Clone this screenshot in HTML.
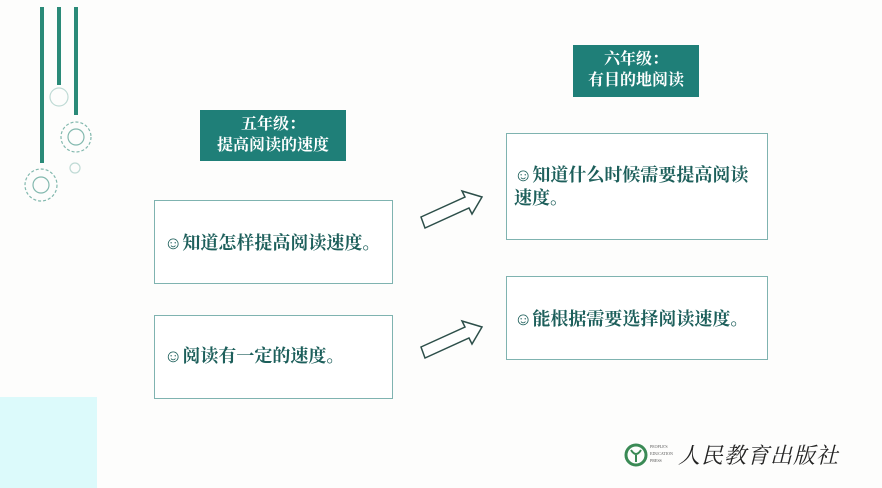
<!DOCTYPE html>
<html><head><meta charset="utf-8"><style>
body{margin:0;width:882px;height:488px;background:#fdfdfc;position:relative;overflow:hidden;font-family:"Liberation Serif","Noto Serif CJK SC",serif;}
.box{position:absolute;border:1.5px solid #7fb3b0;background:#fff;box-sizing:border-box;color:#1d5f5b;font-weight:bold;font-size:18px;line-height:23px;}
.lab{position:absolute;background:#1f7f78;color:#fff;font-weight:bold;font-size:16px;line-height:21px;text-align:center;box-sizing:border-box;padding-top:4px;}
.bar{position:absolute;background:#2a8a78;width:4px;}
</style></head><body>
<div class="bar" style="left:40px;top:7px;height:156px"></div>
<div class="bar" style="left:57px;top:7px;height:78px"></div>
<div class="bar" style="left:74px;top:7px;height:108px"></div>
<svg style="position:absolute;left:0;top:0" width="120" height="220">
<g fill="none" stroke="#5aa294" stroke-width="1.2" opacity="0.75">
<circle cx="76" cy="137" r="15" stroke-dasharray="3 2"/><circle cx="76" cy="137" r="8"/>
<circle cx="41" cy="185" r="16" stroke-dasharray="3 2"/><circle cx="41" cy="185" r="8"/>
<circle cx="59" cy="97" r="9" opacity="0.5"/><circle cx="75" cy="168" r="5" opacity="0.5"/>
</g></svg>
<div style="position:absolute;left:0;top:397px;width:97px;height:91px;background:#dcfafb"></div>
<div class="lab" style="left:200px;top:110px;width:146px;height:51px">五年级：<br>提高阅读的速度</div>
<div class="lab" style="left:573px;top:45px;width:126px;height:52px">六年级：<br>有目的地阅读</div>
<div class="box" style="left:154px;top:200px;width:239px;height:84px;padding:31px 0 0 9px">☺知道怎样提高阅读速度。</div>
<div class="box" style="left:154px;top:315px;width:239px;height:84px;padding:29px 0 0 9px">☺阅读有一定的速度。</div>
<div class="box" style="left:506px;top:133px;width:262px;height:107px;padding:30px 10px 0 7px">☺知道什么时候需要提高阅读速度。</div>
<div class="box" style="left:506px;top:276px;width:262px;height:84px;padding:31px 0 0 7px">☺能根据需要选择阅读速度。</div>
<svg style="position:absolute;left:0;top:0" width="882" height="488">
<g fill="#fff" stroke="#2d4f4a" stroke-width="1.5">
<polygon points="421,217 465,197 462,191 482,197 472,214 469,208 425,228"/>
<polygon points="421,347 465,327 462,321 482,327 472,344 469,338 425,358"/>
</g>
<circle cx="636" cy="455" r="10" fill="none" stroke="#3a8a55" stroke-width="3"/>
<path d="M631 450 Q636 458 641 450 M636 455 V462" stroke="#3a8a55" stroke-width="2" fill="none"/>
<text x="650" y="448" font-size="4" fill="#555">PEOPLE'S</text>
<text x="650" y="455" font-size="4" fill="#555">EDUCATION</text>
<text x="650" y="462" font-size="4" fill="#555">PRESS</text>
<text x="678" y="463" font-size="22" font-style="italic" fill="#222" font-family="Liberation Serif,Noto Serif CJK SC,serif" letter-spacing="1">人民教育出版社</text>
</svg>
</body></html>
